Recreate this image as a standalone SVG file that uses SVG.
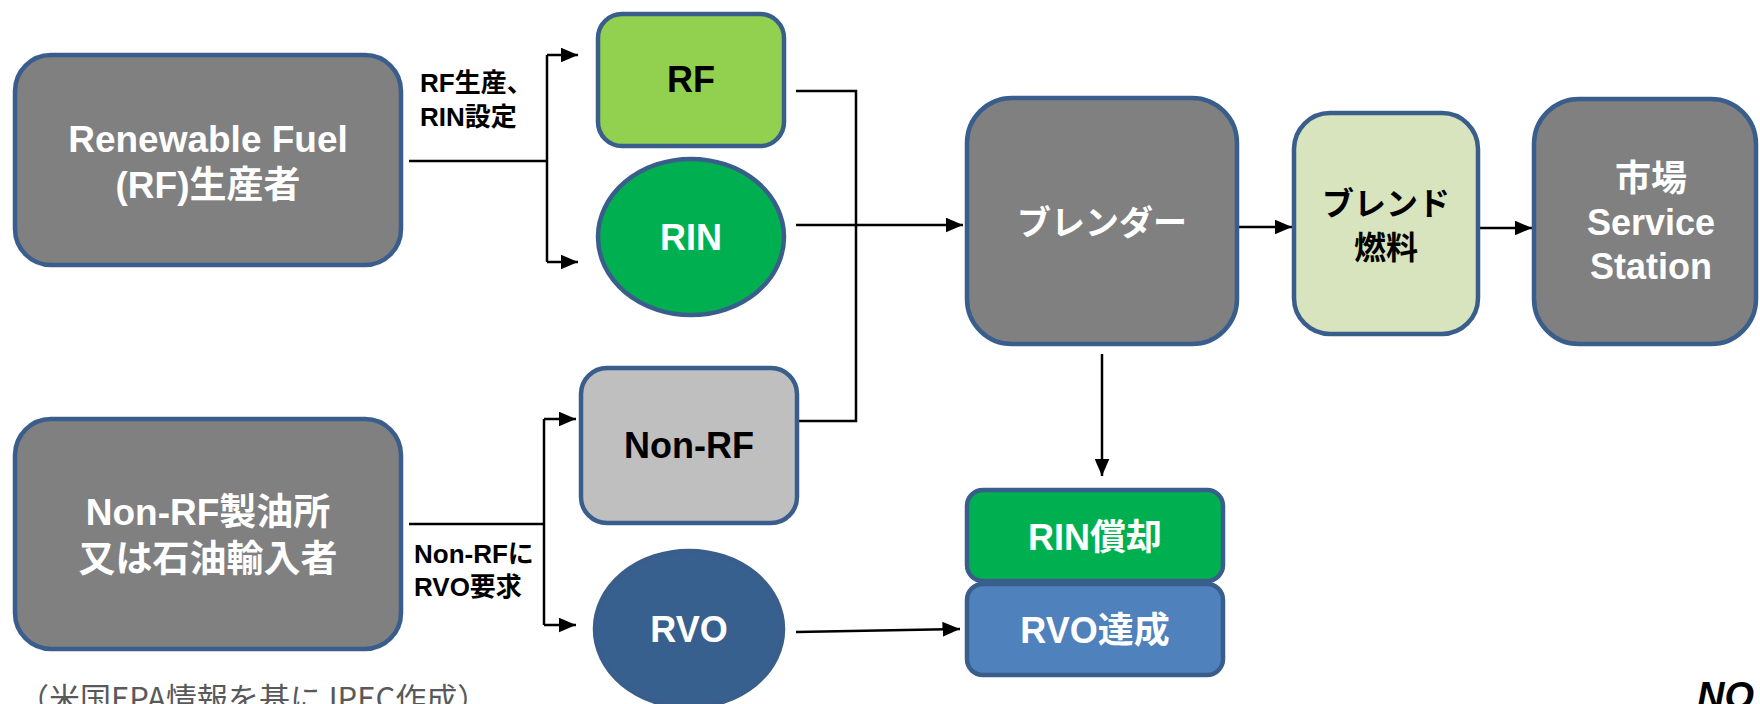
<svg xmlns="http://www.w3.org/2000/svg" width="1760" height="704" viewBox="0 0 1760 704">
<style>
.n{stroke:#3A5E8C;stroke-width:4.5}
.t{font-family:"Liberation Sans","Noto Sans CJK JP",sans-serif;font-weight:bold;text-anchor:middle}
.w{fill:#FFFFFF}
.b{fill:#000000}
.lb{font-family:"Liberation Sans","Noto Sans CJK JP",sans-serif;font-weight:bold;font-size:26px;fill:#000}
.c{fill:none;stroke:#000;stroke-width:2.5}
</style>
<defs>
<marker id="ah" markerWidth="7" markerHeight="6" refX="7" refY="3" orient="auto" markerUnits="strokeWidth">
<path d="M0,0 L7,3 L0,6 Z" fill="#000"/>
</marker>
</defs>
<rect width="1760" height="704" fill="#FFFFFF"/>

<g id="connectors">
<polyline class="c" points="409,161 547,161"/>
<polyline class="c" points="547,55 547,262"/>
<polyline class="c" points="547,55 578,55" marker-end="url(#ah)"/>
<polyline class="c" points="547,262 578,262" marker-end="url(#ah)"/>
<polyline class="c" points="409,524 544,524"/>
<polyline class="c" points="544,419 544,625"/>
<polyline class="c" points="544,419 576,419" marker-end="url(#ah)"/>
<polyline class="c" points="544,625 576,625" marker-end="url(#ah)"/>
<polyline class="c" points="796,91 856,91 856,421 798,421"/>
<polyline class="c" points="796,225 963,225" marker-end="url(#ah)"/>
<polyline class="c" points="1237,227 1292,227" marker-end="url(#ah)"/>
<polyline class="c" points="1478,228 1532,228" marker-end="url(#ah)"/>
<polyline class="c" points="1102,354 1102,476" marker-end="url(#ah)"/>
<polyline class="c" points="796,632 960,629" marker-end="url(#ah)"/>
</g>

<g id="label-rf">
<text class="lb" x="420" y="92">RF生産、</text>
<text class="lb" x="420" y="126">RIN設定</text>
</g>
<g id="label-nonrf">
<text class="lb" x="414" y="563">Non-RFに</text>
<text class="lb" x="414" y="596">RVO要求</text>
</g>

<g id="rf-producer">
<rect class="n" x="15" y="55" width="386" height="210" rx="36" fill="#808080"/>
<text class="t w" x="208" y="152" font-size="37">Renewable Fuel</text>
<text class="t w" x="208" y="198" font-size="37">(RF)生産者</text>
</g>

<g id="nonrf-refiner">
<rect class="n" x="15" y="419" width="386" height="230" rx="36" fill="#808080"/>
<text class="t w" x="208" y="525" font-size="37">Non-RF製油所</text>
<text class="t w" x="208" y="572" font-size="37">又は石油輸入者</text>
</g>

<g id="rf">
<rect class="n" x="598" y="14" width="186" height="132" rx="24" fill="#92D050"/>
<text class="t b" x="691" y="92" font-size="36">RF</text>
</g>

<g id="rin">
<ellipse class="n" cx="691" cy="237" rx="93" ry="78" fill="#00B050"/>
<text class="t w" x="691" y="250" font-size="36">RIN</text>
</g>

<g id="nonrf">
<rect class="n" x="581" y="368" width="216" height="155" rx="26" fill="#BFBFBF"/>
<text class="t b" x="689" y="458" font-size="36">Non-RF</text>
</g>

<g id="rvo">
<ellipse class="n" cx="689" cy="629" rx="94" ry="78" fill="#37608F"/>
<text class="t w" x="689" y="642" font-size="36">RVO</text>
</g>

<g id="blender">
<rect class="n" x="967" y="98" width="270" height="246" rx="45" fill="#808080"/>
<text class="t w" x="1102" y="235" font-size="34">ブレンダー</text>
</g>

<g id="blend-fuel">
<rect class="n" x="1294" y="113" width="184" height="221" rx="36" fill="#D7E4BD"/>
<text class="t b" x="1386" y="215" font-size="32">ブレンド</text>
<text class="t b" x="1386" y="259" font-size="32">燃料</text>
</g>

<g id="market">
<rect class="n" x="1534" y="99" width="222" height="245" rx="45" fill="#808080"/>
<text class="t w" x="1651" y="191" font-size="36">市場</text>
<text class="t w" x="1651" y="235" font-size="36">Service</text>
<text class="t w" x="1651" y="279" font-size="36">Station</text>
</g>

<g id="rin-retire">
<rect class="n" x="967" y="490" width="256" height="91" rx="16" fill="#00B050"/>
<text class="t w" x="1095" y="550" font-size="36">RIN償却</text>
</g>

<g id="rvo-achieve">
<rect class="n" x="967" y="584" width="256" height="91" rx="16" fill="#4F81BD"/>
<text class="t w" x="1095" y="643" font-size="36">RVO達成</text>
</g>

<g id="footer">
<text x="18" y="710" font-family="'Noto Sans CJK JP',sans-serif" font-size="31" fill="#595959">（米国EPA情報を基にJPEC作成）</text>
<text x="1697" y="709" font-family="'Liberation Sans',sans-serif" font-weight="bold" font-style="italic" font-size="38" fill="#000">NO</text>
</g>
</svg>
